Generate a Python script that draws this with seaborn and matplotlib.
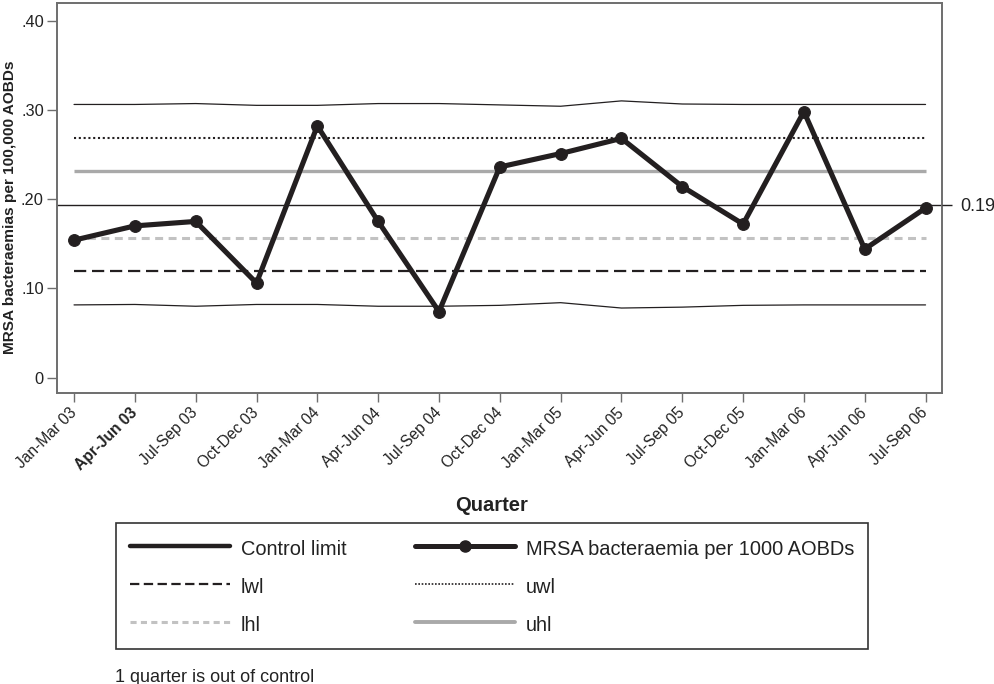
import matplotlib
matplotlib.use("Agg")
import matplotlib.pyplot as plt
import matplotlib.transforms as mtransforms
from matplotlib.lines import Line2D
import pandas as pd
import seaborn as sns

# Quarterly MRSA bacteraemia rates with control, warning and hospital limits
quarters = ["Jan-Mar 03", "Apr-Jun 03", "Jul-Sep 03", "Oct-Dec 03",
            "Jan-Mar 04", "Apr-Jun 04", "Jul-Sep 04", "Oct-Dec 04",
            "Jan-Mar 05", "Apr-Jun 05", "Jul-Sep 05", "Oct-Dec 05",
            "Jan-Mar 06", "Apr-Jun 06", "Jul-Sep 06"]
rate = [0.154, 0.170, 0.175, 0.106, 0.282, 0.175, 0.074, 0.236,
        0.251, 0.268, 0.214, 0.172, 0.298, 0.144, 0.190]
upper_control = [0.306, 0.306, 0.307, 0.305, 0.305, 0.307, 0.307, 0.3055,
                 0.304, 0.310, 0.3065, 0.306, 0.306, 0.306, 0.306]
lower_control = [0.0815, 0.082, 0.080, 0.082, 0.082, 0.080, 0.080, 0.081,
                 0.084, 0.078, 0.079, 0.081, 0.0815, 0.0815, 0.0815]
centre = 0.1935
centre_label = "0.19"
uwl = 0.268
uhl = 0.2316
lhl = 0.156
lwl = 0.119
y_ticks = [0, 0.10, 0.20, 0.30, 0.40]
y_tick_labels = ["0", ".10", ".20", ".30", ".40"]
note = "1 quarter is out of control"

sns.set_theme(style="white")
plt.rcParams["font.family"] = ["Liberation Sans", "DejaVu Sans"]

ink = "#231f20"
grey_uhl = "#a9a9a9"
grey_lhl = "#c2c2c2"
spine_col = "#6e6e6e"

df = pd.DataFrame({"pos": range(len(quarters)), "quarter": quarters,
                   "rate": rate, "ucl": upper_control, "lcl": lower_control})

fig = plt.figure(figsize=(9.95, 6.84), dpi=100)
ax = fig.add_axes([0.0576, 0.425, 0.8888, 0.5711])

# control limits (thin, slightly varying)
sns.lineplot(data=df, x="pos", y="ucl", ax=ax, color=ink, lw=0.9)
sns.lineplot(data=df, x="pos", y="lcl", ax=ax, color=ink, lw=0.9)

# warning and hospital limits
x0, x1 = df["pos"].min(), df["pos"].max()
ax.hlines(uwl, x0, x1, color=ink, lw=1.5, linestyles=(0, (1, 1.3)))
ax.hlines(uhl, x0, x1, color=grey_uhl, lw=2.4)
ax.hlines(lhl, x0, x1, color=grey_lhl, lw=2.2, linestyles=(0, (2.6, 1.8)))
ax.hlines(lwl, x0, x1, color=ink, lw=1.6, linestyles=(0, (5.5, 2.6)))

# centre line across the whole panel
ax.axhline(centre, color=ink, lw=1.0)

# quarterly rate
sns.lineplot(data=df, x="pos", y="rate", ax=ax, color=ink, lw=3.7,
             marker="o", markersize=8.5, markeredgecolor=ink,
             markerfacecolor=ink)

ax.set_xlim(-0.275, len(quarters) - 1 + 0.265)
ax.set_ylim(-0.0175, 0.42)
ax.set_xticks(df["pos"])
ax.set_xticklabels(quarters, rotation=45, ha="right", va="center",
                   rotation_mode="anchor", fontsize=11.2, color="#222222")
ax.get_xticklabels()[1].set_fontweight("bold")
shift = mtransforms.ScaledTranslation(4 / 100, -1 / 100, fig.dpi_scale_trans)
for lbl in ax.get_xticklabels():
    lbl.set_transform(lbl.get_transform() + shift)
ax.set_yticks(y_ticks)
ax.set_yticklabels(y_tick_labels, fontsize=11.8, color="#222222")
ax.tick_params(axis="x", length=6.5, width=1.0, color=spine_col, pad=6,
               bottom=True)
ax.tick_params(axis="y", length=7.2, width=1.0, color=spine_col, pad=2.5,
               left=True)
for s in ax.spines.values():
    s.set_color(spine_col)
    s.set_linewidth(1.4)

ax.set_xlabel("Quarter", fontsize=14.5, fontweight="bold", color="#222222")
ax.xaxis.set_label_coords((492 - 57.3) / 884.4, (393.3 - 505) / 390.6)
ax.xaxis.label.set_va("center")
ax.set_ylabel("MRSA bacteraemias per 100,000 AOBDs", fontsize=11.1,
              fontweight="bold", color="#222222")
ax.yaxis.set_label_coords((9.5 - 57.3) / 884.4, (393.3 - 207.5) / 390.6)
ax.yaxis.label.set_va("center")

# centre-line value on the right-hand side
ax2 = ax.twinx()
ax2.set_ylim(ax.get_ylim())
ax2.set_yticks([centre])
ax2.set_yticklabels([centre_label], fontsize=13, color="#222222")
ax2.tick_params(axis="y", right=True, length=7.2, width=1.0,
                color=ink, pad=6)
for s in ax2.spines.values():
    s.set_visible(False)
ax2.grid(False)

# legend
handles = [
    Line2D([], [], color=ink, lw=3.2),
    Line2D([], [], color=ink, lw=1.6, linestyle=(0, (4.2, 2.0))),
    Line2D([], [], color=grey_lhl, lw=2.2, linestyle=(0, (2.0, 1.4))),
    Line2D([], [], color=ink, lw=3.6, marker="o", markersize=8),
    Line2D([], [], color=ink, lw=1.2, linestyle=(0, (1, 1))),
    Line2D([], [], color=grey_uhl, lw=2.8),
]
labels = ["Control limit", "lwl", "lhl",
          "MRSA bacteraemia per 1000 AOBDs", "uwl", "uhl"]
leg = fig.legend(handles, labels, ncol=2, loc="upper left",
                 bbox_to_anchor=(116 / 995, 1 - 523 / 684,
                                 (868 - 116) / 995, 0.0),
                 mode="expand", borderaxespad=0, fontsize=14.4,
                 handlelength=5.0, handleheight=1.35, handletextpad=0.55,
                 borderpad=0.7, labelspacing=0.77, frameon=True,
                 fancybox=False, framealpha=1, edgecolor="#333333")
leg.get_frame().set_linewidth(1.2)
for t in leg.get_texts():
    t.set_color("#222222")

fig.text(115 / 995, 1 - 677 / 684, note, fontsize=13, color="#222222",
         ha="left", va="center")

fig.savefig("out.png", dpi=100)
